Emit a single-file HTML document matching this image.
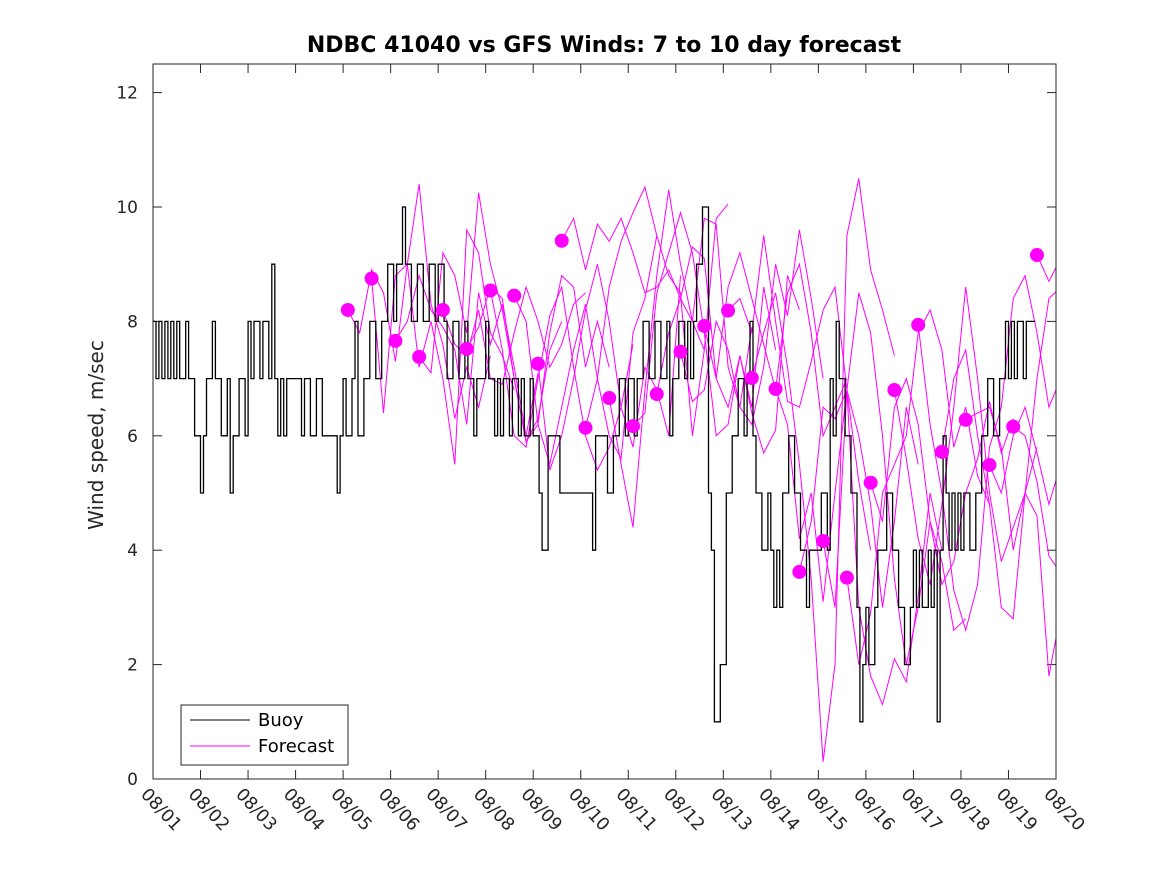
<!DOCTYPE html>
<html><head><meta charset="utf-8"><style>
body{margin:0;background:#fff}
svg{display:block;font-family:"DejaVu Sans","Liberation Sans",sans-serif}
</style></head><body>
<svg id="chart" width="1167" height="875" viewBox="0 0 1167 875">
<defs><clipPath id="plotclip"><rect x="153" y="64" width="903" height="715"/></clipPath></defs>
<rect x="0" y="0" width="1167" height="875" fill="#fff"/>
<text x="604" y="52" text-anchor="middle" font-size="22" font-weight="bold" fill="#000">NDBC 41040 vs GFS Winds: 7 to 10 day forecast</text>
<text transform="translate(103,435) rotate(-90)" text-anchor="middle" font-size="20" fill="#262626">Wind speed, m/sec</text>
<g id="axes"></g>
<g id="series" clip-path="url(#plotclip)"></g>
<rect x="153" y="64" width="903" height="715" fill="none" stroke="#262626" stroke-width="1"/>
<g>
<rect x="181" y="705" width="167" height="60" fill="#fff" stroke="#262626" stroke-width="1"/>
<line x1="190" y1="720" x2="250" y2="720" stroke="#000" stroke-width="1"/>
<text x="258" y="726" font-size="18" fill="#000">Buoy</text>
<line x1="190" y1="746" x2="250" y2="746" stroke="#ff00ff" stroke-width="1"/>
<text x="258" y="752" font-size="18" fill="#000">Forecast</text>
</g>
</svg>
<script>
const yTicks=[0,2,4,6,8,10,12];
const xTickLabels=["08/01","08/02","08/03","08/04","08/05","08/06","08/07","08/08","08/09","08/10","08/11","08/12","08/13","08/14","08/15","08/16","08/17","08/18","08/19","08/20"];
// buoy: 1.5-hourly values starting 08/01 00:00
const buoyValues=[
8,7,8,7,8,7,8,7,8,7,7,8,7,7,6,6,
5,6,7,7,8,7,7,6,6,7,5,6,6,7,7,6,
8,7,8,8,7,8,8,7,9,7,6,7,6,7,7,7,
7,7,6,7,7,6,6,7,7,6,6,6,6,6,5,6,
7,6,6,7,8,6,6,7,7,8,8,7,7,8,8,9,
9,8,9,9,10,9,9,8,8,9,9,8,8,9,9,8,
9,9,8,7,7,8,8,7,7,8,7,7,6,7,7,7,
8,7,7,6,7,6,7,7,6,7,7,6,7,6,6,7,
6,6,5,4,4,6,6,6,6,5,5,5,5,5,5,5,
5,5,5,5,4,6,6,6,6,5,5,6,6,7,7,6,
7,7,6,7,7,8,8,7,7,8,8,7,7,8,6,7,
7,8,8,7,8,7,8,9,9,10,10,5,4,1,1,2,
2,5,5,6,6,7,7,6,7,8,6,5,5,4,4,5,
4,3,4,3,5,5,6,6,5,5,4,4,3,4,4,4,
4,5,5,4,7,6,8,7,7,6,6,5,5,3,1,2,
3,2,2,3,4,4,4,5,5,4,4,3,3,2,2,3,
4,3,4,3,3,4,3,4,1,4,6,5,4,5,4,5,
4,5,5,4,4,5,5,6,6,7,7,6,6,7,7,8,
7,8,7,8,8,7,8,8,8];
const buoyStepDays=0.0625;
// forecast runs: start day offsets and 6-hourly values
const forecastStarts=[4.1,4.6,5.1,5.6,6.1,6.6,7.1,7.6,8.1,8.6,9.1,9.6,10.1,10.6,11.1,11.6,12.1,12.6,13.1,13.6,14.1,14.6,15.1,15.6,16.1,16.6,17.1,17.6,18.1,18.6];
const forecastValues=[
[8.2,7.8,8.9,8.5,7.3,9.0,10.4,8.3,7.6,6.3,7.2,6.5,7.4],
[8.75,6.4,8.8,9.0,7.2,8.0,7.0,5.5,9.6,9.2,7.8,7.4,6.8],
[7.66,8.0,8.8,8.2,7.9,7.5,6.2,8.5,7.6,8.3,7.2,6.0,7.1],
[7.38,7.1,9.2,8.8,7.8,10.25,9.0,8.2,7.0,5.9,6.3,7.5,8.0],
[8.2,7.6,7.4,8.2,7.0,6.9,7.8,8.6,8.0,7.2,7.6,8.3,8.5],
[7.52,7.9,8.6,8.4,7.0,5.9,6.2,7.8,8.8,8.6,7.2,8.0,7.2],
[8.54,7.5,6.0,5.8,7.0,8.1,8.6,7.2,6.0,5.4,5.8,6.5,7.6],
[8.45,8.0,6.2,5.5,6.5,7.5,8.3,7.0,6.0,5.6,7.8,8.4,9.5],
[7.26,5.4,6.0,7.0,8.2,9.0,8.0,6.5,5.8,7.2,6.8,6.0,8.8],
[9.41,9.8,8.9,9.7,9.4,9.8,9.2,8.5,8.6,8.9,8.4,8.0,7.5],
[6.14,7.0,8.6,9.4,9.9,10.35,9.5,8.8,8.5,6.0,7.5,9.8,10.05],
[6.66,5.5,4.4,6.8,8.8,10.3,9.0,8.0,9.8,9.7,7.2,6.5,7.9],
[6.17,6.4,8.5,9.2,9.9,9.2,7.8,6.0,6.2,7.4,6.5,8.6,7.5],
[6.73,7.8,8.4,9.3,9.1,7.0,6.5,7.4,6.4,5.7,6.1,8.8,8.2],
[7.47,6.6,6.8,8.0,7.5,6.5,6.2,7.2,9.0,8.1,9.6,8.4,7.0],
[7.92,7.0,8.6,9.2,8.4,7.6,6.8,8.5,9.0,7.8,6.0,6.5,7.0],
[8.19,8.4,7.8,9.5,8.0,6.6,6.5,7.3,8.2,8.6,6.8,5.2,4.0],
[7.01,7.8,8.5,7.2,5.5,3.5,0.3,2.0,9.5,10.5,8.9,8.2,7.4],
[6.82,6.2,4.2,5.0,3.1,5.0,6.8,6.0,4.8,3.0,4.5,6.5,5.5],
[3.62,4.5,6.5,6.3,6.8,3.0,1.8,1.3,2.1,1.7,3.2,5.0,4.0],
[4.16,3.0,6.8,8.5,7.8,6.0,3.5,2.0,3.0,4.5,3.8,2.6,2.8],
[3.52,2.0,2.9,5.0,5.5,6.0,7.8,8.2,7.5,5.8,6.5,5.3,4.8],
[5.18,4.5,6.5,7.0,6.2,4.5,3.4,3.8,5.0,5.6,6.6,5.7,6.3],
[6.8,5.6,4.2,3.4,4.8,6.5,8.6,7.0,5.0,3.8,4.4,5.0,5.8],
[7.94,6.2,5.0,3.3,2.6,3.4,5.8,6.5,8.4,8.8,7.8,6.5,7.0],
[5.72,7.0,7.5,6.0,4.8,3.0,2.8,5.0,7.0,8.4,8.6,8.3,8.0],
[6.28,6.4,6.5,5.8,4.0,5.0,4.6,1.8,2.9,3.5,4.0,4.5,4.8],
[5.49,5.0,6.0,6.5,5.7,4.8,5.5,6.0,6.8,6.5,6.0,5.8,6.0],
[6.16,6.0,5.2,3.9,3.6,4.4,5.0,5.5,6.0,6.2,6.0,5.8,6.0],
[9.16,8.7,9.1,8.8,8.5,8.6,8.7,8.8,8.9,9.0,9.0,9.0,9.0]];
const forecastStepDays=0.25;

const NS="http://www.w3.org/2000/svg";
function xs(d){return 153+d*47.526;}
function ys(v){return 779-v*57.2;}
const axes=document.getElementById('axes');
const series=document.getElementById('series');
function mk(tag,attrs,parent){const e=document.createElementNS(NS,tag);for(const k in attrs)e.setAttribute(k,attrs[k]);parent.appendChild(e);return e;}

yTicks.forEach(v=>{
  const y=ys(v);
  const t1=mk('line',{x1:153,y1:y,x2:162,y2:y,stroke:'#262626'},axes);
  
  
  const t2=mk('line',{x1:1047,y1:y,x2:1056,y2:y,stroke:'#262626'},axes);
  
  
  const tx=mk('text',{x:138,y:y+6,'text-anchor':'end','font-size':17,fill:'#262626'},axes);
  tx.textContent=v;
  
  
});
xTickLabels.forEach((lab,i)=>{
  const x=xs(i);
  const t1=mk('line',{x1:x,y1:779,x2:x,y2:770,stroke:'#262626'},axes);
  
  
  const t2=mk('line',{x1:x,y1:64,x2:x,y2:73,stroke:'#262626'},axes);
  
  
  const tx=mk('text',{transform:`translate(${x-13},${795}) rotate(47)`,'font-size':17.5,fill:'#262626'},axes);
  tx.textContent=lab;
  
  
});

forecastValues.forEach((vals,i)=>{
  const t0=forecastStarts[i];
  const pts=vals.map((v,j)=>xs(t0+j*forecastStepDays).toFixed(1)+','+ys(v).toFixed(1)).join(' ');
  const pl=mk('polyline',{points:pts,fill:'none',stroke:'#ff00ff','stroke-width':1},series);
  
  
});
let d='';
buoyValues.forEach((v,i)=>{
  const x0=xs(i*buoyStepDays),x1=xs((i+1)*buoyStepDays),y=ys(v);
  d+=(i===0?'M':'L')+x0.toFixed(1)+','+y.toFixed(1)+'L'+x1.toFixed(1)+','+y.toFixed(1);
});
const bp=mk('path',{d:d,fill:'none',stroke:'#000','stroke-width':1.3},series);


forecastValues.forEach((vals,i)=>{
  const c=mk('circle',{cx:xs(forecastStarts[i]),cy:ys(vals[0]),r:7,fill:'#ff00ff'},series);
  
  
});
</script>
</body></html>
